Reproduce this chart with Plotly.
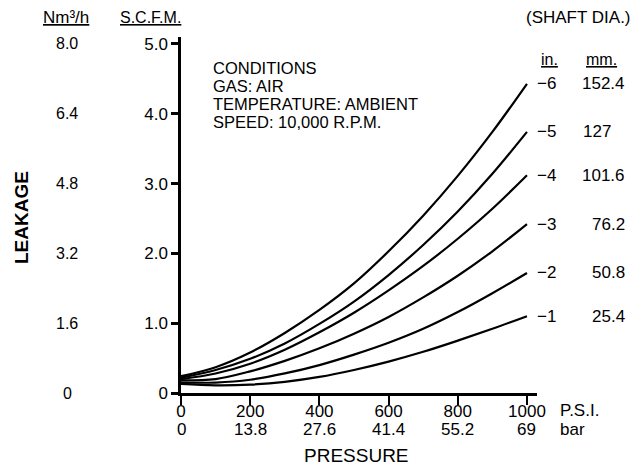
import plotly.graph_objects as go

# ---- data ----
pressure_psi = [0, 100, 200, 300, 400, 500, 600, 700, 800, 900, 1000]
leak_6in = [0.24, 0.37, 0.58, 0.86, 1.19, 1.57, 2.03, 2.54, 3.11, 3.74, 4.43]
leak_5in = [0.22, 0.33, 0.49, 0.71, 0.99, 1.31, 1.69, 2.12, 2.60, 3.14, 3.74]
leak_4in = [0.20, 0.28, 0.42, 0.62, 0.87, 1.15, 1.47, 1.82, 2.21, 2.64, 3.12]
leak_3in = [0.18, 0.20, 0.31, 0.46, 0.64, 0.85, 1.09, 1.37, 1.68, 2.03, 2.42]
leak_2in = [0.15, 0.15, 0.19, 0.28, 0.40, 0.55, 0.72, 0.92, 1.16, 1.43, 1.72]
leak_1in = [0.13, 0.11, 0.12, 0.16, 0.23, 0.33, 0.45, 0.59, 0.75, 0.92, 1.10]

series = [leak_1in, leak_2in, leak_3in, leak_4in, leak_5in, leak_6in]
shaft_in = ["1", "2", "3", "4", "5", "6"]
shaft_mm = ["25.4", "50.8", "76.2", "101.6", "127", "152.4"]

scfm_ticks = [0, 1, 2, 3, 4, 5]
scfm_labels = ["0", "1.0", "2.0", "3.0", "4.0", "5.0"]
nm3h_labels = ["0", "1.6", "3.2", "4.8", "6.4", "8.0"]

psi_ticks = [0, 200, 400, 600, 800, 1000]
psi_labels = ["0", "200", "400", "600", "800", "1000"]
bar_labels = ["0", "13.8", "27.6", "41.4", "55.2", "69"]

conditions = ["CONDITIONS", "GAS: AIR", "TEMPERATURE: AMBIENT", "SPEED: 10,000 R.P.M."]

FONT = "Liberation Sans, Arial, Helvetica, sans-serif"
W, H = 633, 468
L, R, T, B = 181, 96, 37, 75
PW, PH = W - L - R, H - T - B


def px_x(px):
    return (px - L) / PW


def px_y(py):
    return (H - B - py) / PH


fig = go.Figure()
for s in series:
    fig.add_trace(go.Scatter(x=pressure_psi, y=s, mode="lines",
                             line=dict(color="black", width=2.2, shape="spline", smoothing=1.0),
                             hoverinfo="skip", showlegend=False))

ann = []
# Nm3/h column
for v, t in zip(scfm_ticks, nm3h_labels):
    ann.append(dict(x=px_x(67), xref="paper", y=v, yref="y", text=t,
                    xanchor="center", yanchor="middle", showarrow=False))
# headers
ann.append(dict(x=px_x(66), xref="paper", y=px_y(17), yref="paper", text="<u>Nm³/h</u>",
                xanchor="center", yanchor="middle", showarrow=False, font=dict(size=17)))
ann.append(dict(x=px_x(150), xref="paper", y=px_y(17), yref="paper", text="<u>S.C.F.M.</u>",
                xanchor="center", yanchor="middle", showarrow=False))
ann.append(dict(x=px_x(578), xref="paper", y=px_y(17), yref="paper", text="(SHAFT DIA.)",
                xanchor="center", yanchor="middle", showarrow=False, font=dict(size=17)))
ann.append(dict(x=px_x(549), xref="paper", y=px_y(59), yref="paper", text="<u>in.</u>",
                xanchor="center", yanchor="middle", showarrow=False))
ann.append(dict(x=px_x(601), xref="paper", y=px_y(59), yref="paper", text="<u>mm.</u>",
                xanchor="center", yanchor="middle", showarrow=False))
# curve labels
for s, i_lab, mm_lab in zip(series, shaft_in, shaft_mm):
    ann.append(dict(x=px_x(535), xref="paper", y=s[-1], yref="y", text="\u2212" + i_lab,
                    xanchor="left", yanchor="middle", showarrow=False, font=dict(size=17)))
    if mm_lab == "127":
        ann.append(dict(x=px_x(581), xref="paper", y=s[-1], yref="y", text=mm_lab,
                        xanchor="left", yanchor="middle", showarrow=False, font=dict(size=17)))
    else:
        ann.append(dict(x=px_x(627), xref="paper", y=s[-1], yref="y", text=mm_lab,
                        xanchor="right", yanchor="middle", showarrow=False, font=dict(size=17)))
# conditions block
for k, line in enumerate(conditions):
    ann.append(dict(x=px_x(212), xref="paper", y=px_y(68 + 18 * k), yref="paper", text=line,
                    xanchor="left", yanchor="middle", showarrow=False, borderpad=0,
                    font=dict(size=16.5)))
# bar row beneath the psi tick labels
for v, t in zip(psi_ticks, bar_labels):
    ann.append(dict(x=v, xref="x", y=px_y(429), yref="paper", text=t,
                    xanchor="center", yanchor="middle", showarrow=False, font=dict(size=17)))
# unit labels of x axis
ann.append(dict(x=px_x(558), xref="paper", y=px_y(410), yref="paper", text="P.S.I.",
                xanchor="left", yanchor="middle", showarrow=False, font=dict(size=17)))
ann.append(dict(x=px_x(558), xref="paper", y=px_y(429), yref="paper", text="bar",
                xanchor="left", yanchor="middle", showarrow=False, font=dict(size=17)))
# axis titles
ann.append(dict(x=px_x(356), xref="paper", y=px_y(455), yref="paper", text="PRESSURE",
                xanchor="center", yanchor="middle", showarrow=False, font=dict(size=19)))
ann.append(dict(x=px_x(21), xref="paper", y=px_y(218), yref="paper", text="<b>LEAKAGE</b>",
                xanchor="center", yanchor="middle", showarrow=False, textangle=-90,
                font=dict(size=19)))

fig.update_layout(
    width=W, height=H,
    margin=dict(l=L, r=R, t=T, b=B, pad=0),
    paper_bgcolor="white", plot_bgcolor="white",
    font=dict(family=FONT, size=16, color="black"),
    annotations=ann,
    xaxis=dict(range=[0, 1029], showgrid=False, zeroline=False,
               showline=True, linecolor="black", linewidth=2.5,
               ticks="outside", ticklen=9, tickwidth=2, tickcolor="black",
               tickvals=psi_ticks, ticktext=psi_labels,
               tickfont=dict(size=17), ticklabelstandoff=-8),
    yaxis=dict(range=[0, 5.1], showgrid=False, zeroline=False,
               showline=True, linecolor="black", linewidth=2.5,
               ticks="outside", ticklen=7, tickwidth=2.5, tickcolor="black",
               tickvals=scfm_ticks, ticktext=scfm_labels,
               tickfont=dict(size=17)),
)

fig.write_html("out.html", config={"displayModeBar": False},
               post_script="document.body.style.margin='0';document.body.style.overflow='hidden';")
